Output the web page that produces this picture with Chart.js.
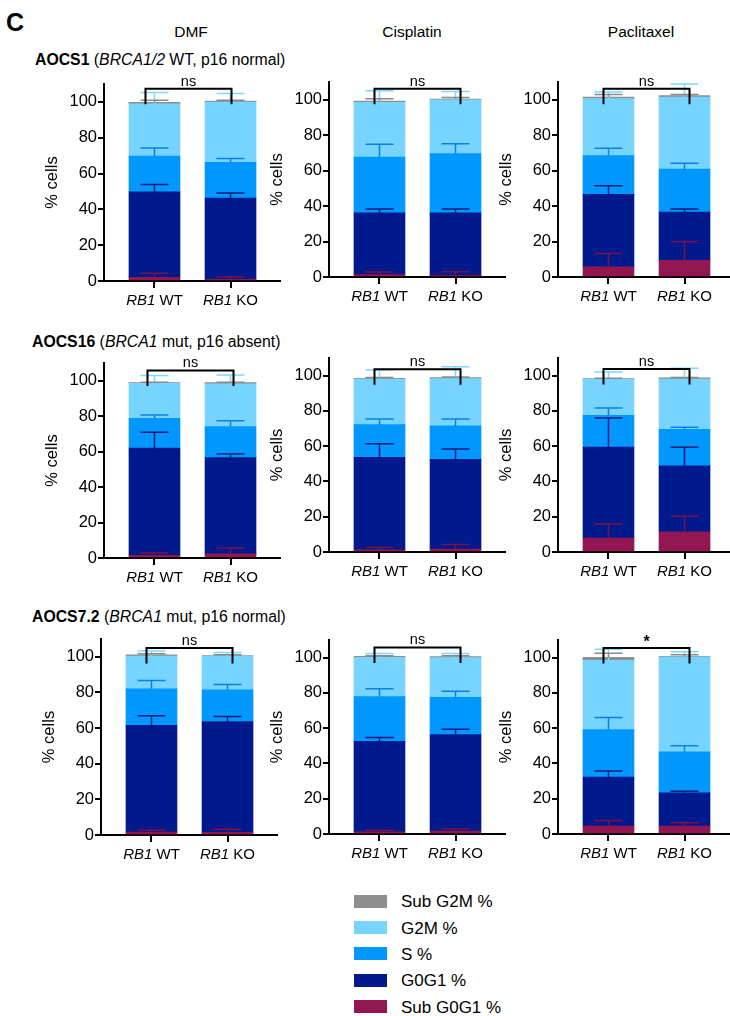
<!DOCTYPE html>
<html>
<head>
<meta charset="utf-8">
<script src="https://cdn.jsdelivr.net/npm/chart.js@4.4.1/dist/chart.umd.min.js"></script>
<style>
html, body { margin: 0; padding: 0; background: #fff; }
body { position: relative; width: 730px; height: 1016px; overflow: hidden;
       font-family: "Liberation Sans", Arial, sans-serif; color: #000; }
canvas { position: absolute; }
.t { position: absolute; white-space: nowrap; line-height: 1; transform: translateY(-50%); }
.sw { position: absolute; width: 33px; height: 13px; }
</style>
</head>
<body>
<script>
// stacking order, bottom to top
const phases = ['Sub G0G1 %', 'G0G1 %', 'S %', 'G2M %', 'Sub G2M %'];
const phaseColors = ['#92164f', '#001a8e', '#0098ff', '#76d4ff', '#8e8e8e'];
const errColors = ['#7a1245', '#0a1a78', '#0a80e0', '#7fd8ff', '#8a8a8a'];
const genotypes = ['WT', 'KO'];
const drugs = ['DMF', 'Cisplatin', 'Paclitaxel'];
const cellLines = ['AOCS1', 'AOCS16', 'AOCS7.2'];
const lineGene = ['BRCA1/2', 'BRCA1', 'BRCA1'];
const lineNote = [' WT, p16 normal)', ' mut, p16 absent)', ' mut, p16 normal)'];
const yTicks = [0, 20, 40, 60, 80, 100];

// mean % per phase, [RB1 WT, RB1 KO]
const AOCS1_DMF = [[2.0, 47.8, 19.9, 29.2, 0.9], [0.9, 45.4, 19.9, 33.7, 0.5]];
const AOCS1_DMF_SD = [[2.3, 4.1, 4.6, 6.3, 1.1], [1.3, 2.9, 2.2, 4.8, 0.5]];
const AOCS1_CIS = [[1.3, 34.9, 31.5, 30.8, 0.7], [0.8, 35.4, 33.4, 30.4, 0.4]];
const AOCS1_CIS_SD = [[1.5, 2.1, 7.2, 6.6, 1.4], [2.2, 2.1, 5.5, 4.7, 0.9]];
const AOCS1_PAC = [[5.8, 40.8, 21.9, 32.1, 0.9], [9.4, 27.2, 24.3, 40.6, 0.8]];
const AOCS1_PAC_SD = [[7.4, 4.9, 4.1, 3.7, 1.5], [10.6, 1.7, 3.3, 7.4, 0.7]];

const AOCS16_DMF = [[1.5, 60.5, 16.8, 19.7, 0.4], [2.3, 54.3, 17.6, 24.1, 0.6]];
const AOCS16_DMF_SD = [[1.3, 8.9, 1.8, 4.5, 0.3], [3.3, 2.0, 3.2, 4.9, 0.2]];
const AOCS16_CIS = [[1.3, 52.4, 18.5, 25.9, 0.4], [1.7, 50.9, 18.9, 26.8, 0.6]];
const AOCS16_CIS_SD = [[1.3, 7.7, 3.2, 5.1, 0.4], [2.6, 5.8, 3.9, 6.8, 0.3]];
const AOCS16_PAC = [[7.9, 51.6, 18.0, 20.6, 0.2], [11.5, 37.3, 20.8, 28.5, 0.6]];
const AOCS16_PAC_SD = [[8.0, 16.5, 4.2, 4.0, 0.2], [8.7, 10.6, 1.1, 6.1, 0.3]];

const AOCS72_DMF = [[1.7, 59.8, 20.6, 18.3, 0.7], [1.5, 62.2, 17.8, 18.9, 0.3]];
const AOCS72_DMF_SD = [[1.1, 5.4, 4.6, 2.8, 0.6], [1.7, 2.8, 3.0, 2.0, 0.4]];
const AOCS72_CIS = [[1.3, 51.3, 25.3, 22.3, 0.6], [1.7, 54.7, 21.1, 22.5, 0.6]];
const AOCS72_CIS_SD = [[0.8, 2.1, 4.4, 2.1, 0.3], [1.1, 3.0, 3.4, 2.3, 0.4]];
const AOCS72_PAC = [[4.5, 27.8, 26.9, 39.3, 1.7], [4.5, 18.9, 23.2, 53.8, 0.4]];
const AOCS72_PAC_SD = [[3.2, 3.4, 6.8, 6.2, 2.3], [1.9, 0.9, 3.4, 3.0, 0.9]];

const significance = [['ns', 'ns', 'ns'], ['ns', 'ns', 'ns'], ['ns', 'ns', '*']];

const panelData = [
    [AOCS1_DMF, AOCS1_DMF_SD], [AOCS1_CIS, AOCS1_CIS_SD], [AOCS1_PAC, AOCS1_PAC_SD],
    [AOCS16_DMF, AOCS16_DMF_SD], [AOCS16_CIS, AOCS16_CIS_SD], [AOCS16_PAC, AOCS16_PAC_SD],
    [AOCS72_DMF, AOCS72_DMF_SD], [AOCS72_CIS, AOCS72_CIS_SD], [AOCS72_PAC, AOCS72_PAC_SD]
];

// layout of each panel: y-axis x, pixel of 0 and 100, bracket height (axis units), bracket shift (px)
const geom = [
    { L: 104, y0: 281, y100: 101.7, br: 107.4, bx: -4 },
    { L: 329, y0: 277, y100: 100, br: 106.2, bx: 0 },
    { L: 558, y0: 277, y100: 100, br: 106.2, bx: 0 },
    { L: 104, y0: 558, y100: 381, br: 105.8, bx: -2 },
    { L: 329, y0: 552, y100: 376, br: 103.6, bx: 0 },
    { L: 558, y0: 552, y100: 376, br: 103.8, bx: 0 },
    { L: 101, y0: 835, y100: 656.7, br: 105, bx: 0 },
    { L: 329, y0: 834, y100: 657.7, br: 105.8, bx: 0 },
    { L: 558, y0: 834, y100: 657.7, br: 105.5, bx: 0 }
];

Chart.defaults.font.family = '"Liberation Sans", Arial, sans-serif';
Chart.defaults.color = '#000';

const addText = (html, x, y, size, extra) => {
    const d = document.createElement('div');
    d.className = 't';
    d.innerHTML = html;
    d.style.left = x + 'px';
    d.style.top = y + 'px';
    d.style.fontSize = size + 'px';
    if (extra) Object.assign(d.style, extra);
    document.body.appendChild(d);
    return d;
};

// figure letter, column titles, row titles
addText('C', 6, 22, 25, { fontWeight: 'bold' });
const colCenters = [191, 412, 641];
drugs.forEach((d, i) => {
    const el = addText(d, colCenters[i], 32, 15.5);
    el.style.transform = 'translate(-50%, -50%)';
});
const rowTitle = [[35, 60], [32, 342], [32, 617]];
cellLines.forEach((c, i) => {
    addText('<b>' + c + '</b> (<i>' + lineGene[i] + '</i>' + lineNote[i], rowTitle[i][0], rowTitle[i][1], 15.8);
});

// legend, top item is the top of the stack
phases.slice().reverse().forEach((p, i) => {
    const k = phases.length - 1 - i;
    const cy = 901.3 + i * 26.3;
    const sw = document.createElement('div');
    sw.className = 'sw';
    sw.style.left = '354px';
    sw.style.top = (cy - 6.5) + 'px';
    sw.style.background = phaseColors[k];
    document.body.appendChild(sw);
    addText(p, 401, cy, 17);
});

const makeDeco = (vals, sd, sig, g) => ({
    id: 'panelDeco',
    afterDatasetsDraw(chart) {
        const ctx = chart.ctx, ys = chart.scales.y;
        ctx.save();
        ctx.lineWidth = 1.5;
        for (let k = 0; k < phases.length; k++) {
            const meta = chart.getDatasetMeta(k);
            meta.data.forEach((el, j) => {
                let cum = 0;
                for (let m = 0; m <= k; m++) cum += vals[j][m];
                const yErr = ys.getPixelForValue(cum + sd[j][k]);
                ctx.strokeStyle = errColors[k];
                ctx.beginPath();
                ctx.moveTo(el.x, el.y);
                ctx.lineTo(el.x, yErr);
                ctx.moveTo(el.x - 14, yErr);
                ctx.lineTo(el.x + 14, yErr);
                ctx.stroke();
            });
        }
        ctx.restore();
    },
    afterDraw(chart) {
        const ctx = chart.ctx, xs = chart.scales.x, ys = chart.scales.y;
        const area = chart.chartArea;
        ctx.save();
        // significance bracket
        const xL = xs.getPixelForValue(0) - 5 + g.bx, xR = xs.getPixelForValue(1) + 5 + g.bx;
        const yb = ys.getPixelForValue(g.br);
        ctx.strokeStyle = '#000';
        ctx.lineWidth = 2;
        ctx.beginPath();
        ctx.moveTo(xL, yb + 15.5);
        ctx.lineTo(xL, yb);
        ctx.lineTo(xR, yb);
        ctx.lineTo(xR, yb + 15.5);
        ctx.stroke();
        ctx.fillStyle = '#000';
        ctx.textAlign = 'center';
        ctx.textBaseline = 'alphabetic';
        if (sig === '*') {
            ctx.font = 'bold 16px "Liberation Sans", Arial, sans-serif';
            ctx.fillText(sig, (xL + xR) / 2, yb - 1);
        } else {
            ctx.font = '14.5px "Liberation Sans", Arial, sans-serif';
            ctx.fillText(sig, (xL + xR) / 2, yb - 3);
        }
        // x labels: italic gene + genotype
        ctx.textAlign = 'left';
        ctx.textBaseline = 'middle';
        genotypes.forEach((gt, j) => {
            const cx = xs.getPixelForValue(j);
            const fi = 'italic 15px "Liberation Sans", Arial, sans-serif';
            const fn = '15px "Liberation Sans", Arial, sans-serif';
            ctx.font = fi;
            const w1 = ctx.measureText('RB1').width;
            ctx.font = fn;
            const w2 = ctx.measureText(' ' + gt).width;
            const x = cx - (w1 + w2) / 2;
            const y = area.bottom + 20;
            ctx.font = fi;
            ctx.fillText('RB1', x, y);
            ctx.font = fn;
            ctx.fillText(' ' + gt, x + w1, y);
        });
        // y title
        ctx.font = '16.5px "Liberation Sans", Arial, sans-serif';
        ctx.textAlign = 'center';
        ctx.translate(area.left - 52, (area.top + area.bottom) / 2);
        ctx.rotate(-Math.PI / 2);
        ctx.fillText('% cells', 0, 0);
        ctx.restore();
    }
});

const PAD_TOP = 30, Y_W = 60, X_H = 40, PLOT_W = 177;

panelData.forEach(([vals, sd], p) => {
    const g = geom[p];
    const plotH = Math.round((g.y0 - g.y100) * 1.1);
    const cv = document.createElement('canvas');
    cv.width = Y_W + PLOT_W;
    cv.height = PAD_TOP + plotH + X_H;
    cv.style.left = (g.L - Y_W) + 'px';
    cv.style.top = (Math.round(g.y0) - PAD_TOP - plotH) + 'px';
    document.body.appendChild(cv);

    const datasets = phases.map((ph, k) => ({
        label: ph,
        data: vals.map((v, j) => ({ x: j, y: v[k] })),
        backgroundColor: phaseColors[k],
        borderWidth: 0,
        barThickness: 51
    }));

    new Chart(cv.getContext('2d'), {
        type: 'bar',
        data: { datasets: datasets },
        options: {
            responsive: false,
            animation: false,
            layout: { padding: { top: PAD_TOP, left: 0, right: 0, bottom: 0 } },
            plugins: { legend: { display: false }, tooltip: { enabled: false } },
            scales: {
                x: {
                    type: 'linear',
                    stacked: true,
                    min: -0.664,
                    max: 1.664,
                    offset: false,
                    afterBuildTicks: (s) => { s.ticks = [{ value: 0 }, { value: 1 }]; },
                    afterFit: (s) => { s.height = X_H; },
                    ticks: { display: false },
                    grid: { offset: false, drawOnChartArea: false, drawTicks: true, tickLength: 7, color: '#000', lineWidth: 2 },
                    border: { display: true, color: '#000', width: 2 }
                },
                y: {
                    type: 'linear',
                    stacked: true,
                    min: 0,
                    max: 110,
                    afterBuildTicks: (s) => { s.ticks = yTicks.map(v => ({ value: v })); },
                    afterFit: (s) => { s.width = Y_W; },
                    ticks: { font: { size: 16.5 }, color: '#000', padding: 1 },
                    grid: { drawOnChartArea: false, drawTicks: true, tickLength: 6, color: '#000', lineWidth: 2 },
                    border: { display: true, color: '#000', width: 2 }
                }
            }
        },
        plugins: [makeDeco(vals, sd, significance[Math.floor(p / 3)][p % 3], g)]
    });
});
</script>
</body>
</html>
